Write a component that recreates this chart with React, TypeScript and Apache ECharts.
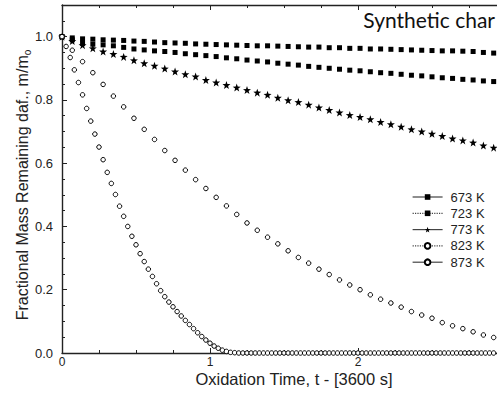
import React, { useEffect, useRef } from "react";
import * as echarts from "echarts";

// Sampling intervals of the TGA records, in hours (250 s and 100 s).
const COARSE_STEP_H = 250 / 3600;
const FINE_STEP_H = 100 / 3600;

const seriesNames = ["673 K", "723 K", "773 K", "823 K", "873 K"];

// Fractional mass remaining (daf), sampled every 250 s
const mass673 = [
  1.0, 0.996, 0.993, 0.992, 0.99, 0.989, 0.988, 0.986, 0.985, 0.983, 0.981,
  0.98, 0.979, 0.977, 0.976, 0.975, 0.974, 0.973, 0.972, 0.971, 0.971, 0.97,
  0.969, 0.968, 0.967, 0.967, 0.965, 0.965, 0.963, 0.963, 0.961, 0.961, 0.96,
  0.959, 0.958, 0.957, 0.956, 0.955, 0.955, 0.954, 0.953, 0.95, 0.948,
];
const mass723 = [
  1.0, 0.99, 0.979, 0.976, 0.974, 0.971, 0.966, 0.961, 0.958, 0.955, 0.953,
  0.95, 0.946, 0.943, 0.94, 0.937, 0.933, 0.93, 0.926, 0.923, 0.92, 0.916,
  0.913, 0.91, 0.906, 0.903, 0.9, 0.897, 0.894, 0.892, 0.889, 0.886, 0.884,
  0.881, 0.878, 0.876, 0.873, 0.87, 0.868, 0.865, 0.863, 0.86, 0.858,
];
const mass773 = [
  1.0, 0.986, 0.973, 0.963, 0.953, 0.945, 0.936, 0.925, 0.916, 0.908, 0.899,
  0.89, 0.881, 0.874, 0.863, 0.855, 0.847, 0.839, 0.831, 0.823, 0.816, 0.807,
  0.799, 0.793, 0.785, 0.776, 0.768, 0.76, 0.752, 0.746, 0.739, 0.73, 0.723,
  0.715, 0.707, 0.7, 0.693, 0.686, 0.678, 0.672, 0.665, 0.656, 0.649,
];
const mass823 = [
  1.0, 0.957, 0.921, 0.886, 0.849, 0.812, 0.778, 0.742, 0.707, 0.675, 0.64,
  0.609, 0.578, 0.548, 0.52, 0.492, 0.465, 0.438, 0.411, 0.388, 0.366, 0.345,
  0.323, 0.302, 0.284, 0.265, 0.248, 0.231, 0.215, 0.2, 0.184, 0.17, 0.158,
  0.145, 0.131, 0.12, 0.11, 0.096, 0.086, 0.077, 0.067, 0.057, 0.049,
];
// Sampled every 100 s
const mass873 = [
  1.0, 0.969, 0.934, 0.895, 0.855, 0.816, 0.773, 0.733, 0.692, 0.651, 0.611,
  0.571, 0.536, 0.501, 0.464, 0.432, 0.4, 0.369, 0.342, 0.314, 0.289, 0.265,
  0.242, 0.219, 0.197, 0.178, 0.161, 0.146, 0.131, 0.117, 0.103, 0.09, 0.077,
  0.064, 0.052, 0.041, 0.031, 0.022, 0.015, 0.009, 0.005, 0.002, 0.001,
  0, 0, 0, 0, 0, 0, 0, 0, 0, 0, 0, 0, 0, 0, 0, 0, 0, 0, 0, 0, 0,
  0, 0, 0, 0, 0, 0, 0, 0, 0, 0, 0, 0, 0, 0, 0, 0, 0, 0, 0, 0, 0,
  0, 0, 0, 0, 0, 0, 0, 0, 0, 0, 0, 0, 0, 0, 0, 0, 0, 0, 0, 0, 0,
];

const xTicks = [0, 1, 2];
const yTicks = [0, 0.2, 0.4, 0.6, 0.8, 1.0];

const STAR =
  "path://M0,-10L2.35,-3.24L9.51,-3.09L3.8,1.24L5.88,8.09L0,4L-5.88,8.09L-3.8,1.24L-9.51,-3.09L-2.35,-3.24Z";

const AXIS_FONT = "'Liberation Sans', Arial, sans-serif";

function toPairs(values: number[], step: number) {
  return values.map((v, i) => [i * step, v]);
}

export default function App() {
  const ref = useRef<HTMLDivElement>(null);

  useEffect(() => {
    if (!ref.current) return;
    document.body.style.margin = "0";
    const chart = echarts.init(ref.current, null, { renderer: "svg" });

    const filled = { color: "#000" };
    const hollow = { color: "#fff", borderColor: "#000", borderWidth: 1 };

    const makeSeries = (
      name: string,
      values: number[],
      step: number,
      symbol: string,
      size: number,
      itemStyle: any
    ) => ({
      type: "line",
      name,
      data: toPairs(values, step),
      symbol,
      symbolSize: size,
      showSymbol: true,
      clip: false,
      silent: true,
      lineStyle: { width: 0 },
      itemStyle,
    });

    const legendLine = (type: string) => ({
      width: 1.2,
      type,
      color: "#444",
    });

    const axisLine = { show: true, lineStyle: { color: "#222", width: 1.4 } };
    const tick = { inside: true, length: 5, lineStyle: { color: "#222" } };
    const minor = {
      show: true,
      splitNumber: 4,
      length: 3,
      lineStyle: { color: "#222" },
    };

    chart.setOption({
      animation: false,
      backgroundColor: "#fff",
      grid: {
        left: 62,
        top: 5,
        width: 444,
        height: 348,
        outerBoundsMode: "none",
      },
      legend: {
        orient: "vertical",
        left: 412,
        top: 190,
        padding: 0,
        itemWidth: 30,
        itemHeight: 7,
        itemGap: 2.3,
        selectedMode: false,
        textStyle: {
          fontFamily: AXIS_FONT,
          fontSize: 13,
          color: "#222",
          lineHeight: 14,
          padding: [0, 0, 0, 3],
        },
        data: [
          { name: seriesNames[0], lineStyle: legendLine("solid") },
          { name: seriesNames[1], lineStyle: legendLine("dotted") },
          { name: seriesNames[2], lineStyle: legendLine("solid") },
          { name: seriesNames[3], lineStyle: legendLine("dotted") },
          { name: seriesNames[4], lineStyle: legendLine("solid") },
        ],
      },
      xAxis: [
        {
          type: "value",
          min: 0,
          max: 3,
          interval: 1,
          axisLine,
          axisTick: tick,
          minorTick: minor,
          splitLine: { show: false },
          axisLabel: {
            margin: 2,
            fontFamily: AXIS_FONT,
            fontSize: 12,
            lineHeight: 13,
            color: "#222",
            showMaxLabel: false,
            formatter: (v: number) => (xTicks.includes(v) ? String(v) : ""),
          },
        },
        {
          type: "value",
          position: "top",
          min: 0,
          max: 3,
          interval: 1,
          axisLine,
          axisTick: tick,
          minorTick: minor,
          splitLine: { show: false },
          axisLabel: { show: false },
        },
      ],
      yAxis: {
        type: "value",
        min: 0,
        max: 1.1,
        interval: 0.2,
        axisLine,
        axisTick: tick,
        minorTick: minor,
        splitLine: { show: false },
        axisLabel: {
          margin: 9,
          fontFamily: AXIS_FONT,
          fontSize: 13,
          color: "#222",
          showMaxLabel: false,
          formatter: (v: number) =>
            yTicks.some((t) => Math.abs(t - v) < 1e-6) ? v.toFixed(1) : "",
        },
      },
      graphic: [
        {
          type: "text",
          x: 294,
          y: 379,
          style: {
            text: "Oxidation Time, t - [3600 s]",
            font: `16.5px ${AXIS_FONT}`,
            fill: "#222",
            align: "center",
            verticalAlign: "middle",
          },
        },
        {
          type: "text",
          x: 22,
          y: 185,
          rotation: Math.PI / 2,
          style: {
            text: "Fractional Mass Remaining daf., m/m{sub|o}",
            font: `16px ${AXIS_FONT}`,
            fill: "#222",
            align: "center",
            verticalAlign: "middle",
            rich: {
              sub: {
                fontFamily: AXIS_FONT,
                fontSize: 10,
                fill: "#222",
                verticalAlign: "bottom",
                lineHeight: 20,
              },
            },
          },
        },
        {
          type: "text",
          right: 2,
          top: 9,
          style: {
            text: "Synthetic char",
            font: "21px Lato, 'Open Sans', sans-serif",
            fill: "#111",
          },
        },
      ],
      series: [
        makeSeries(seriesNames[0], mass673, COARSE_STEP_H, "rect", 5, filled),
        makeSeries(seriesNames[1], mass723, COARSE_STEP_H, "rect", 5, filled),
        makeSeries(seriesNames[2], mass773, COARSE_STEP_H, STAR, 8, filled),
        makeSeries(seriesNames[3], mass823, COARSE_STEP_H, "circle", 4.5, hollow),
        makeSeries(seriesNames[4], mass873, FINE_STEP_H, "circle", 4.5, hollow),
      ],
    });

    return () => chart.dispose();
  }, []);

  return (
    <div
      ref={ref}
      style={{ position: "absolute", left: 0, top: 0, width: 497, height: 393 }}
    />
  );
}
